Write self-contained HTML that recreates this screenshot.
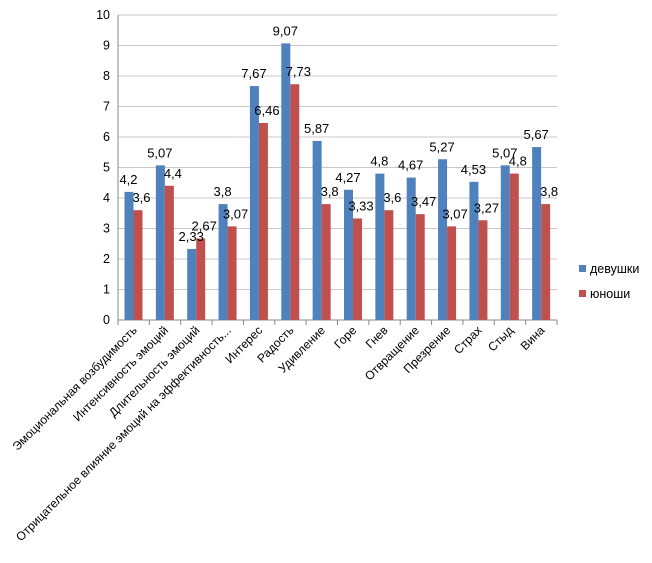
<!DOCTYPE html>
<html><head><meta charset="utf-8"><style>body{margin:0;background:#fff}svg{display:block}text{font-family:"Liberation Sans","DejaVu Sans",sans-serif;fill:#000}</style></head>
<body>
<svg width="652" height="563" viewBox="0 0 652 563" xmlns="http://www.w3.org/2000/svg">
<g id="c"></g>
</svg>
<script>
const blue=[4.2,5.07,2.33,3.8,7.67,9.07,5.87,4.27,4.8,4.67,5.27,4.53,5.07,5.67];
const red=[3.6,4.4,2.67,3.07,6.46,7.73,3.8,3.33,3.6,3.47,3.07,3.27,4.8,3.8];
const cats=["Эмоциональная возбудимость","Интенсивность эмоций","Длительность эмоций","Отрицательное влияние эмоций на эффективность...","Интерес","Радость","Удивление","Горе","Гнев","Отвращение","Презрение","Страх","Стыд","Вина"];
const x0=118,x1=557,y0=320,y10=15,w=(x1-x0)/14;
const Y=v=>y0-(y0-y10)*v/10;
let s='';
for(let i=1;i<=10;i++)s+=`<line x1="${x0}" x2="${x1}" y1="${Y(i)}" y2="${Y(i)}" stroke="#c8c8c8" stroke-width="1"/>`;
for(let i=0;i<=10;i++)s+=`<text x="${x0-8}" y="${Y(i)+4}" font-size="12.5" text-anchor="end">${i}</text>`;
s+=`<line x1="${x0}" x2="${x0}" y1="${y10}" y2="${y0}" stroke="#888"/>`;
s+=`<line x1="${x0}" x2="${x1}" y1="${y0}" y2="${y0}" stroke="#888"/>`;
const f=v=>String(v).replace('.',',');
for(let i=0;i<14;i++){
 const cx=x0+i*w;
 s+=`<line x1="${cx}" x2="${cx}" y1="${y0}" y2="${y0+5}" stroke="#888"/>`;
 const bx=cx+6.5;
 s+=`<rect x="${bx}" y="${Y(blue[i])}" width="9" height="${y0-Y(blue[i])}" fill="#4f81bd"/>`;
 s+=`<rect x="${bx+9}" y="${Y(red[i])}" width="9" height="${y0-Y(red[i])}" fill="#c0504d"/>`;
 s+=`<text x="${bx+4}" y="${Y(blue[i])-8}" font-size="13" text-anchor="middle">${f(blue[i])}</text>`;
 s+=`<text x="${bx+17}" y="${Y(red[i])-8}" font-size="13" text-anchor="middle">${f(red[i])}</text>`;
 const lx=cx+w/2+4,ly=y0+11;
 s+=`<text x="${lx}" y="${ly}" font-size="12" text-anchor="end" transform="rotate(-45 ${lx} ${ly})">${cats[i]}</text>`;
}
s+=`<line x1="${x1}" x2="${x1}" y1="${y0}" y2="${y0+5}" stroke="#888"/>`;
s+=`<rect x="579" y="265" width="7" height="7" fill="#4f81bd"/><text x="590" y="273" font-size="12.5">девушки</text>`;
s+=`<rect x="579" y="290" width="7" height="7" fill="#c0504d"/><text x="590" y="298" font-size="12.5">юноши</text>`;
document.getElementById('c').innerHTML=s;
</script>
</body></html>
